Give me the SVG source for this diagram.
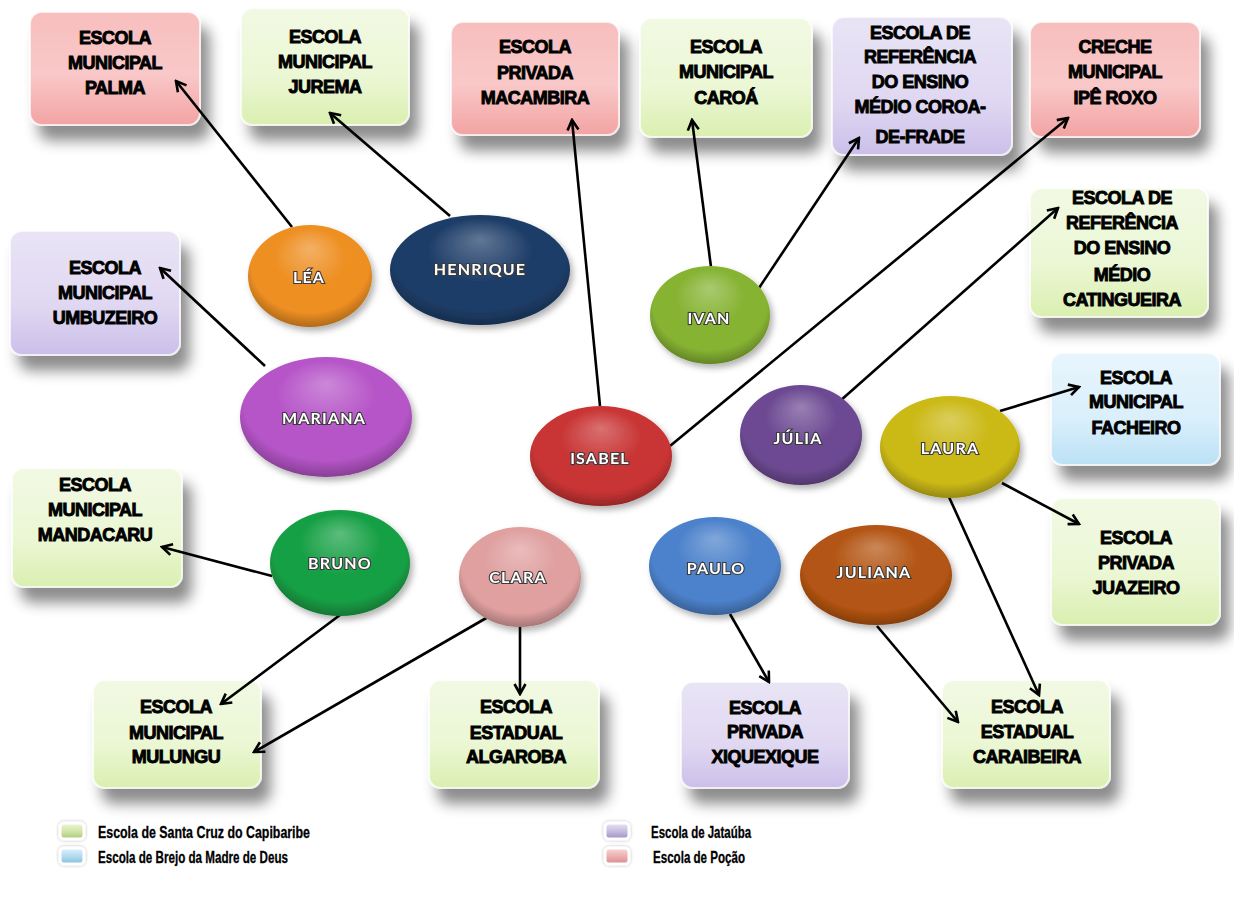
<svg xmlns="http://www.w3.org/2000/svg" width="1234" height="899" viewBox="0 0 1234 899">
<defs>
<style>
.bt{font-family:"Liberation Sans",Arial,sans-serif;font-weight:bold;font-size:18px;letter-spacing:-0.5px;text-anchor:middle;fill:#000;stroke:#000;stroke-width:0.9px}
.nt{font-family:Lato,"Open Sans",sans-serif;font-weight:bold;font-size:16px;letter-spacing:1.2px;fill:#fff;text-anchor:middle;stroke:#3a3a3a;stroke-width:2.2px;paint-order:stroke}
.lg{font-family:"Liberation Sans",Arial,sans-serif;font-weight:bold;font-size:17px;fill:#000;stroke:#000;stroke-width:0.3px}
.box{stroke:#fff;stroke-opacity:0.7;stroke-width:2;filter:url(#bs)}
.ico{stroke:#fff;stroke-width:3;filter:url(#ls)}
.shade{fill:url(#shade)}
.ell{filter:url(#es)}
#links line{stroke:#000;stroke-width:2.6;marker-end:url(#arr)}
</style>
<linearGradient id="gPink" x1="0" y1="0" x2="0" y2="1"><stop offset="0" stop-color="#f8bebe"/><stop offset="0.55" stop-color="#f9c8c8"/><stop offset="1" stop-color="#f3a3a3"/></linearGradient>
<linearGradient id="gGreen" x1="0" y1="0" x2="0" y2="1"><stop offset="0" stop-color="#f2f9e4"/><stop offset="0.6" stop-color="#ebf7d4"/><stop offset="1" stop-color="#daefb0"/></linearGradient>
<linearGradient id="gPurple" x1="0" y1="0" x2="0" y2="1"><stop offset="0" stop-color="#e9e4f5"/><stop offset="0.6" stop-color="#e0d8f2"/><stop offset="1" stop-color="#cbbfe9"/></linearGradient>
<linearGradient id="gBlue" x1="0" y1="0" x2="0" y2="1"><stop offset="0" stop-color="#e8f5fd"/><stop offset="0.6" stop-color="#d9effb"/><stop offset="1" stop-color="#bbe1f5"/></linearGradient>
<linearGradient id="iGreen" x1="0" y1="0" x2="0" y2="1"><stop offset="0" stop-color="#eef6dc"/><stop offset="0.5" stop-color="#d2e6a8"/><stop offset="1" stop-color="#a9c978"/></linearGradient>
<linearGradient id="iBlue" x1="0" y1="0" x2="0" y2="1"><stop offset="0" stop-color="#e2f2fb"/><stop offset="0.5" stop-color="#b4dcef"/><stop offset="1" stop-color="#84bfdc"/></linearGradient>
<linearGradient id="iPurple" x1="0" y1="0" x2="0" y2="1"><stop offset="0" stop-color="#ebe6f4"/><stop offset="0.5" stop-color="#c7bde0"/><stop offset="1" stop-color="#9d8fc2"/></linearGradient>
<linearGradient id="iPink" x1="0" y1="0" x2="0" y2="1"><stop offset="0" stop-color="#f9dada"/><stop offset="0.5" stop-color="#eeb0b0"/><stop offset="1" stop-color="#d98a8a"/></linearGradient>
<radialGradient id="shade" cx="0.5" cy="0.42" r="0.58" fx="0.5" fy="0.22">
<stop offset="0" stop-color="#fff" stop-opacity="0.3"/><stop offset="0.5" stop-color="#fff" stop-opacity="0"/><stop offset="0.82" stop-color="#000" stop-opacity="0"/><stop offset="1" stop-color="#000" stop-opacity="0.26"/></radialGradient>
<filter id="bs" x="-20%" y="-20%" width="150%" height="170%">
<feGaussianBlur in="SourceAlpha" stdDeviation="7"/><feOffset dx="9" dy="15" result="b"/>
<feFlood flood-color="#000" flood-opacity="0.45"/><feComposite in2="b" operator="in"/>
<feMerge><feMergeNode/><feMergeNode in="SourceGraphic"/></feMerge></filter>
<filter id="es" x="-20%" y="-20%" width="150%" height="150%">
<feGaussianBlur in="SourceAlpha" stdDeviation="3"/><feOffset dx="3" dy="4" result="b"/>
<feFlood flood-color="#000" flood-opacity="0.3"/><feComposite in2="b" operator="in"/>
<feMerge><feMergeNode/><feMergeNode in="SourceGraphic"/></feMerge></filter>
<filter id="ls" x="-50%" y="-50%" width="200%" height="200%">
<feGaussianBlur in="SourceAlpha" stdDeviation="1.5"/><feOffset dx="0" dy="0" result="b"/>
<feFlood flood-color="#000" flood-opacity="0.3"/><feComposite in2="b" operator="in"/>
<feMerge><feMergeNode/><feMergeNode in="SourceGraphic"/></feMerge></filter>
<marker id="arr" viewBox="0 0 14 14" refX="12" refY="7" markerWidth="14" markerHeight="14" markerUnits="userSpaceOnUse" orient="auto">
<path d="M2,1.5 L12,7 L2,12.5" fill="none" stroke="#000" stroke-width="2.6" stroke-linejoin="miter"/></marker>
</defs>
<rect width="1234" height="899" fill="#fff"/>

<g id="box-palma"><rect class="box" x="30" y="12" width="170" height="113" rx="12" fill="url(#gPink)"/>
<text class="bt"><tspan x="115" y="44">ESCOLA</tspan><tspan x="115" y="69">MUNICIPAL</tspan><tspan x="115" y="94">PALMA</tspan></text></g>
<g id="box-jurema"><rect class="box" x="241" y="8" width="168" height="117" rx="12" fill="url(#gGreen)"/>
<text class="bt"><tspan x="325" y="43">ESCOLA</tspan><tspan x="325" y="68">MUNICIPAL</tspan><tspan x="325" y="93">JUREMA</tspan></text></g>
<g id="box-macambira"><rect class="box" x="451" y="22" width="168" height="113" rx="12" fill="url(#gPink)"/>
<text class="bt"><tspan x="535" y="53">ESCOLA</tspan><tspan x="535" y="79">PRIVADA</tspan><tspan x="535" y="104">MACAMBIRA</tspan></text></g>
<g id="box-caroa"><rect class="box" x="640" y="18" width="172" height="119" rx="12" fill="url(#gGreen)"/>
<text class="bt"><tspan x="726" y="53">ESCOLA</tspan><tspan x="726" y="78">MUNICIPAL</tspan><tspan x="726" y="104">CAROÁ</tspan></text></g>
<g id="box-coroa"><rect class="box" x="832" y="17" width="180" height="138" rx="12" fill="url(#gPurple)"/>
<text class="bt"><tspan x="920" y="39">ESCOLA DE</tspan><tspan x="920" y="63">REFERÊNCIA</tspan><tspan x="920" y="88">DO ENSINO</tspan><tspan x="920" y="113">MÉDIO COROA-</tspan><tspan x="920" y="143">DE-FRADE</tspan></text></g>
<g id="box-ipe"><rect class="box" x="1030" y="22" width="170" height="115" rx="12" fill="url(#gPink)"/>
<text class="bt"><tspan x="1115" y="53">CRECHE</tspan><tspan x="1115" y="78">MUNICIPAL</tspan><tspan x="1115" y="104">IPÊ ROXO</tspan></text></g>
<g id="box-catingueira"><rect class="box" x="1030" y="188" width="178" height="129" rx="12" fill="url(#gGreen)"/>
<text class="bt"><tspan x="1122" y="204">ESCOLA DE</tspan><tspan x="1122" y="229">REFERÊNCIA</tspan><tspan x="1122" y="254">DO ENSINO</tspan><tspan x="1122" y="281">MÉDIO</tspan><tspan x="1122" y="306">CATINGUEIRA</tspan></text></g>
<g id="box-umbuzeiro"><rect class="box" x="10" y="231" width="170" height="124" rx="12" fill="url(#gPurple)"/>
<text class="bt"><tspan x="105" y="274">ESCOLA</tspan><tspan x="105" y="299">MUNICIPAL</tspan><tspan x="105" y="324">UMBUZEIRO</tspan></text></g>
<g id="box-facheiro"><rect class="box" x="1051" y="353" width="169" height="112" rx="12" fill="url(#gBlue)"/>
<text class="bt"><tspan x="1136" y="384">ESCOLA</tspan><tspan x="1136" y="408">MUNICIPAL</tspan><tspan x="1136" y="434">FACHEIRO</tspan></text></g>
<g id="box-juazeiro"><rect class="box" x="1051" y="498" width="169" height="127" rx="12" fill="url(#gGreen)"/>
<text class="bt"><tspan x="1136" y="544">ESCOLA</tspan><tspan x="1136" y="569">PRIVADA</tspan><tspan x="1136" y="594">JUAZEIRO</tspan></text></g>
<g id="box-mandacaru"><rect class="box" x="12" y="468" width="170" height="119" rx="12" fill="url(#gGreen)"/>
<text class="bt"><tspan x="95" y="491">ESCOLA</tspan><tspan x="95" y="516">MUNICIPAL</tspan><tspan x="95" y="541">MANDACARU</tspan></text></g>
<g id="box-mulungu"><rect class="box" x="93" y="680" width="168" height="108" rx="12" fill="url(#gGreen)"/>
<text class="bt"><tspan x="176" y="713">ESCOLA</tspan><tspan x="176" y="739">MUNICIPAL</tspan><tspan x="176" y="763">MULUNGU</tspan></text></g>
<g id="box-algaroba"><rect class="box" x="429" y="680" width="170" height="108" rx="12" fill="url(#gGreen)"/>
<text class="bt"><tspan x="516" y="713">ESCOLA</tspan><tspan x="516" y="739">ESTADUAL</tspan><tspan x="516" y="763">ALGAROBA</tspan></text></g>
<g id="box-xiquexique"><rect class="box" x="681" y="682" width="168" height="106" rx="12" fill="url(#gPurple)"/>
<text class="bt"><tspan x="765" y="714">ESCOLA</tspan><tspan x="765" y="738">PRIVADA</tspan><tspan x="765" y="763">XIQUEXIQUE</tspan></text></g>
<g id="box-caraibeira"><rect class="box" x="942" y="680" width="168" height="108" rx="12" fill="url(#gGreen)"/>
<text class="bt"><tspan x="1027" y="713">ESCOLA</tspan><tspan x="1027" y="738">ESTADUAL</tspan><tspan x="1027" y="763">CARAIBEIRA</tspan></text></g>

<g id="links">
<line x1="292" y1="227" x2="176" y2="81"/>
<line x1="450" y1="216" x2="330" y2="113"/>
<line x1="600" y1="406" x2="572" y2="120"/>
<line x1="670" y1="446" x2="1068" y2="118"/>
<line x1="711" y1="267" x2="692" y2="120"/>
<line x1="759" y1="288" x2="859" y2="138"/>
<line x1="265" y1="366" x2="160" y2="268"/>
<line x1="840" y1="401" x2="1058" y2="208"/>
<line x1="1000" y1="411" x2="1079" y2="387"/>
<line x1="1002" y1="483" x2="1079" y2="524"/>
<line x1="949" y1="497" x2="1039" y2="695"/>
<line x1="877" y1="626" x2="958" y2="722"/>
<line x1="730" y1="614" x2="769" y2="682"/>
<line x1="520" y1="627" x2="520" y2="694"/>
<line x1="488" y1="617" x2="254" y2="752"/>
<line x1="340" y1="615" x2="221" y2="704"/>
<line x1="272" y1="576" x2="162" y2="547"/>
</g>

<g id="n-lea" class="ell"><ellipse cx="310" cy="276" rx="62" ry="51" fill="#ee8f22"/><ellipse class="shade" cx="310" cy="276" rx="62" ry="51"/><text class="nt" x="309" y="283">LÉA</text></g>
<g id="n-henrique" class="ell"><ellipse cx="480" cy="270" rx="90" ry="55" fill="#1e3d68"/><ellipse class="shade" cx="480" cy="270" rx="90" ry="55"/><text class="nt" x="480" y="275">HENRIQUE</text></g>
<g id="n-mariana" class="ell"><ellipse cx="326" cy="417" rx="86" ry="60" fill="#b655c8"/><ellipse class="shade" cx="326" cy="417" rx="86" ry="60"/><text class="nt" x="324" y="424">MARIANA</text></g>
<g id="n-isabel" class="ell"><ellipse cx="601" cy="456" rx="71" ry="50" fill="#c93434"/><ellipse class="shade" cx="601" cy="456" rx="71" ry="50"/><text class="nt" x="600" y="464">ISABEL</text></g>
<g id="n-ivan" class="ell"><ellipse cx="710" cy="315" rx="60" ry="49" fill="#86b333"/><ellipse class="shade" cx="710" cy="315" rx="60" ry="49"/><text class="nt" x="709" y="324">IVAN</text></g>
<g id="n-julia" class="ell"><ellipse cx="801" cy="435" rx="61" ry="50" fill="#6d4a93"/><ellipse class="shade" cx="801" cy="435" rx="61" ry="50"/><text class="nt" x="798" y="444">JÚLIA</text></g>
<g id="n-laura" class="ell"><ellipse cx="950" cy="447" rx="70" ry="51" fill="#cbb916"/><ellipse class="shade" cx="950" cy="447" rx="70" ry="51"/><text class="nt" x="950" y="454">LAURA</text></g>
<g id="n-bruno" class="ell"><ellipse cx="340" cy="563" rx="70" ry="53" fill="#17a045"/><ellipse class="shade" cx="340" cy="563" rx="70" ry="53"/><text class="nt" x="340" y="569">BRUNO</text></g>
<g id="n-clara" class="ell"><ellipse cx="520" cy="577" rx="61" ry="50" fill="#e0a0a0"/><ellipse class="shade" cx="520" cy="577" rx="61" ry="50"/><text class="nt" x="518" y="583">CLARA</text></g>
<g id="n-paulo" class="ell"><ellipse cx="715" cy="566" rx="66" ry="49" fill="#4c82cb"/><ellipse class="shade" cx="715" cy="566" rx="66" ry="49"/><text class="nt" x="716" y="574">PAULO</text></g>
<g id="n-juliana" class="ell"><ellipse cx="876" cy="575" rx="76" ry="50" fill="#b35412"/><ellipse class="shade" cx="876" cy="575" rx="76" ry="50"/><text class="nt" x="874" y="578">JULIANA</text></g>

<g id="legend">
<rect class="ico" x="60" y="823" width="24" height="16" rx="4" fill="url(#iGreen)"/>
<text class="lg" x="98" y="838" textLength="212" lengthAdjust="spacingAndGlyphs">Escola de Santa Cruz  do Capibaribe</text>
<rect class="ico" x="60" y="848" width="24" height="16" rx="4" fill="url(#iBlue)"/>
<text class="lg" x="98" y="863" textLength="190" lengthAdjust="spacingAndGlyphs">Escola de Brejo da Madre de Deus</text>
<rect class="ico" x="605" y="823" width="24" height="16" rx="4" fill="url(#iPurple)"/>
<text class="lg" x="651" y="838" textLength="100" lengthAdjust="spacingAndGlyphs">Escola de Jataúba</text>
<rect class="ico" x="605" y="848" width="24" height="16" rx="4" fill="url(#iPink)"/>
<text class="lg" x="653" y="863" textLength="92" lengthAdjust="spacingAndGlyphs">Escola de Poção</text>
</g>
</svg>
